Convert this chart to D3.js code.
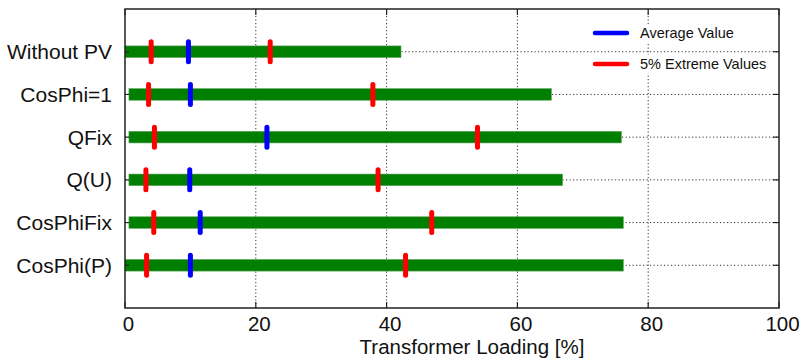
<!DOCTYPE html>
<html>
<head>
<meta charset="utf-8">
<script src="https://cdn.jsdelivr.net/npm/d3@7"></script>
<style>
  html, body { margin: 0; padding: 0; background: #fff; }
  svg { display: block; font-family: "Liberation Sans", Arial, sans-serif; }
</style>
</head>
<body>
<svg id="chart" width="803" height="358"></svg>
<script>
// Transformer loading ranges per control strategy
const categories = ["Without PV", "CosPhi=1", "QFix", "Q(U)", "CosPhiFix", "CosPhi(P)"];
const rangeMin   = [0, 0.6, 0.6, 0.6, 0.6, 0];
const rangeMax   = [42.2, 65.2, 75.9, 66.9, 76.2, 76.2];
const averageVal = [9.7, 10.0, 21.7, 9.9, 11.5, 10.0];
const extremeLow = [4.0, 3.6, 4.5, 3.2, 4.4, 3.3];
const extremeHigh = [22.2, 37.9, 53.9, 38.7, 46.9, 42.9];
const xTicks = [0, 20, 40, 60, 80, 100];
const legendLabels = ["Average Value", "5% Extreme Values"];

const svg = d3.select("#chart");
const plotL = 125, plotR = 779, plotT = 9, plotB = 308;

const x = d3.scaleLinear().domain([0, 100]).range([plotL, plotR]);
const y = d3.scalePoint().domain(categories).range([plotT, plotB]).padding(1);

const gridColor = "#333";

// vertical grid
svg.append("g").selectAll("line").data(xTicks.filter(t => t > 0 && t < 100)).join("line")
  .attr("x1", d => x(d)).attr("x2", d => x(d))
  .attr("y1", plotT).attr("y2", plotB)
  .attr("stroke", gridColor).attr("stroke-width", 1).attr("stroke-dasharray", "1.2,2.3");

// horizontal grid
svg.append("g").selectAll("line").data(categories).join("line")
  .attr("x1", plotL).attr("x2", plotR)
  .attr("y1", d => y(d)).attr("y2", d => y(d))
  .attr("stroke", gridColor).attr("stroke-width", 1).attr("stroke-dasharray", "1.2,2.3");

// range bars
svg.append("g").selectAll("rect").data(categories).join("rect")
  .attr("x", (d, i) => x(rangeMin[i]))
  .attr("width", (d, i) => x(rangeMax[i]) - x(rangeMin[i]))
  .attr("y", d => y(d) - 5.8)
  .attr("height", 11.6)
  .attr("fill", "#007f00")
  .attr("stroke", "#5aa55a").attr("stroke-width", 0.6);

// markers
function markers(values, color, w) {
  svg.append("g").selectAll("line").data(categories).join("line")
    .attr("x1", (d, i) => x(values[i])).attr("x2", (d, i) => x(values[i]))
    .attr("y1", d => y(d) - 10).attr("y2", d => y(d) + 10)
    .attr("stroke", color).attr("stroke-width", w).attr("stroke-linecap", "round");
}
markers(extremeLow, "#ff0000", 5);
markers(extremeHigh, "#ff0000", 5);
markers(averageVal, "#0000ff", 5);

// frame
svg.append("rect")
  .attr("x", plotL).attr("y", plotT).attr("width", plotR - plotL).attr("height", plotB - plotT)
  .attr("fill", "none").attr("stroke", "#222").attr("stroke-width", 1.5);

// x ticks (inward, bottom and top)
const tickLen = 6;
const xt = svg.append("g");
xt.selectAll("line.b").data(xTicks).join("line").attr("class", "b")
  .attr("x1", d => x(d)).attr("x2", d => x(d)).attr("y1", plotB).attr("y2", plotB - tickLen)
  .attr("stroke", "#222").attr("stroke-width", 1.2);
xt.selectAll("line.t").data(xTicks).join("line").attr("class", "t")
  .attr("x1", d => x(d)).attr("x2", d => x(d)).attr("y1", plotT).attr("y2", plotT + tickLen)
  .attr("stroke", "#222").attr("stroke-width", 1.2);
xt.selectAll("text").data(xTicks).join("text")
  .attr("x", d => x(d) + 3.5).attr("y", 330.5)
  .attr("text-anchor", "middle").attr("font-size", 20.5).attr("fill", "#111")
  .text(d => d);

// y ticks (inward, left and right)
const yt = svg.append("g");
yt.selectAll("line.l").data(categories).join("line").attr("class", "l")
  .attr("x1", plotL).attr("x2", plotL + 4).attr("y1", d => y(d)).attr("y2", d => y(d))
  .attr("stroke", "#222").attr("stroke-width", 1.2);
yt.selectAll("line.r").data(categories).join("line").attr("class", "r")
  .attr("x1", plotR).attr("x2", plotR - tickLen).attr("y1", d => y(d)).attr("y2", d => y(d))
  .attr("stroke", "#222").attr("stroke-width", 1.2);
yt.selectAll("text").data(categories).join("text")
  .attr("x", 112).attr("y", d => y(d)).attr("dy", "0.36em")
  .attr("text-anchor", "end").attr("font-size", 21).attr("fill", "#111")
  .text(d => d);

// axis title
svg.append("text")
  .attr("x", 472).attr("y", 353.5)
  .attr("text-anchor", "middle").attr("font-size", 20.5).attr("fill", "#111")
  .text("Transformer Loading [%]");

// legend
const legendColors = ["#0000ff", "#ff0000"];
const lg = svg.append("g");
legendLabels.forEach((lab, i) => {
  const ly = 33 + i * 31;
  lg.append("rect").attr("x", 636).attr("y", ly - 9).attr("width", 138).attr("height", 18).attr("fill", "#fff");
  lg.append("line").attr("x1", 595).attr("x2", 627).attr("y1", ly).attr("y2", ly)
    .attr("stroke", legendColors[i]).attr("stroke-width", 4.5).attr("stroke-linecap", "round");
  lg.append("text").attr("x", 640).attr("y", ly).attr("dy", "0.36em")
    .attr("font-size", 14.5).attr("fill", "#111").text(lab);
});
</script>
</body>
</html>
